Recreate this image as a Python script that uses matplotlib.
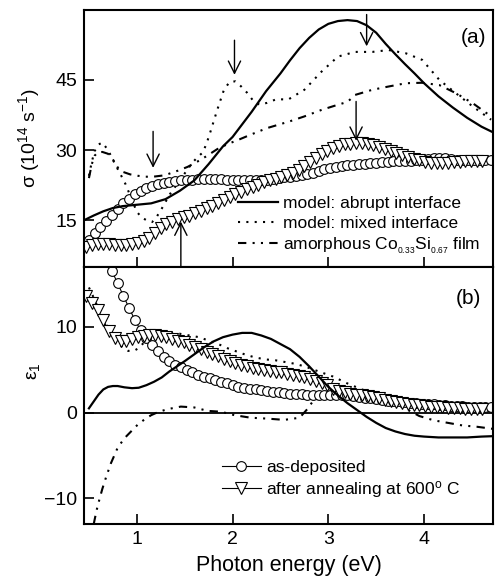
# sigma and eps1 spectra of Co-Si films, two stacked panels
import matplotlib
matplotlib.use("Agg")
import matplotlib.pyplot as plt

plt.rcParams['font.family'] = ['Liberation Sans', 'DejaVu Sans']
plt.rcParams['mathtext.default'] = 'regular'

# ------------------------------
# MEASURED DATA
# ------------------------------
E_dep = [0.50, 0.56, 0.62, 0.68, 0.74, 0.80, 0.86, 0.92, 0.98, 1.04,
         1.10, 1.16, 1.22, 1.28, 1.34, 1.40, 1.46, 1.52, 1.58, 1.64,
         1.70, 1.76, 1.82, 1.88, 1.94, 2.00, 2.06, 2.12, 2.18, 2.24,
         2.30, 2.36, 2.42, 2.48, 2.54, 2.60, 2.66, 2.72, 2.78, 2.84,
         2.90, 2.96, 3.02, 3.08, 3.14, 3.20, 3.26, 3.32, 3.38, 3.44,
         3.50, 3.56, 3.62, 3.68, 3.74, 3.80, 3.86, 3.92, 3.98, 4.04,
         4.10, 4.16, 4.22, 4.28, 4.34, 4.40, 4.46, 4.52, 4.58, 4.64,
         4.70]
sig_dep = [10.7, 12.2, 13.6, 14.9, 16.2, 17.4, 18.6, 19.6, 20.5, 21.2,
           21.8, 22.3, 22.7, 23.0, 23.2, 23.4, 23.5, 23.6, 23.7, 23.8,
           23.8, 23.8, 23.8, 23.8, 23.7, 23.7, 23.6, 23.5, 23.5, 23.5,
           23.6, 23.7, 23.9, 24.1, 24.3, 24.3, 24.4, 24.6, 24.9, 25.2,
           25.6, 25.9, 26.2, 26.4, 26.6, 26.7, 26.9, 27.0, 27.1, 27.2,
           27.3, 27.4, 27.5, 27.6, 27.6, 27.6, 27.7, 27.8, 27.9, 28.0,
           28.2, 28.3, 28.2, 28.0, 27.9, 27.8, 27.8, 27.8, 27.8, 27.8,
           27.8]
eps_dep = [25.0, 22.5, 20.3, 18.3, 16.5, 15.1, 13.6, 12.2, 10.8, 9.6,
           8.7, 7.9, 7.2, 6.5, 6.0, 5.6, 5.3, 5.0, 4.7, 4.4,
           4.2, 4.0, 3.8, 3.6, 3.4, 3.2, 3.0, 2.9, 2.8, 2.7,
           2.6, 2.5, 2.45, 2.4, 2.3, 2.2, 2.2, 2.15, 2.1, 2.1,
           2.1, 2.1, 2.1, 2.1, 2.1, 2.0, 1.9, 1.85, 1.75, 1.65,
           1.6, 1.5, 1.4, 1.35, 1.3, 1.2, 1.15, 1.1, 1.0, 1.0,
           0.95, 0.9, 0.85, 0.8, 0.8, 0.75, 0.7, 0.7, 0.65, 0.6,
           0.6]

E_ann = [0.47, 0.53, 0.59, 0.65, 0.71, 0.77, 0.83, 0.89, 0.95, 1.01,
         1.07, 1.13, 1.19, 1.25, 1.31, 1.37, 1.43, 1.49, 1.55, 1.61,
         1.67, 1.73, 1.79, 1.85, 1.91, 1.97, 2.03, 2.09, 2.15, 2.21,
         2.27, 2.33, 2.39, 2.45, 2.51, 2.57, 2.63, 2.69, 2.75, 2.81,
         2.87, 2.93, 2.99, 3.05, 3.11, 3.17, 3.23, 3.29, 3.35, 3.41,
         3.47, 3.53, 3.59, 3.65, 3.71, 3.77, 3.83, 3.89, 3.95, 4.01,
         4.07, 4.13, 4.19, 4.25, 4.31, 4.37, 4.43, 4.49, 4.55, 4.61]
sig_ann = [9.2, 9.6, 9.9, 10.0, 9.8, 9.6, 9.6, 9.7, 9.8, 10.1,
           10.6, 11.2, 12.2, 13.3, 14.1, 14.7, 15.2, 15.6, 16.0, 16.5,
           17.0, 17.5, 18.1, 18.7, 19.3, 19.9, 20.5, 21.1, 21.6, 22.1,
           22.6, 23.1, 23.5, 23.9, 24.2, 24.6, 25.1, 25.7, 26.5, 27.4,
           28.3, 29.1, 29.8, 30.4, 30.9, 31.2, 31.4, 31.5, 31.5, 31.3,
           31.0, 30.7, 30.3, 29.9, 29.4, 28.9, 28.5, 28.1, 27.8, 27.5,
           27.3, 27.2, 27.2, 27.3, 27.4, 27.5, 27.6, 27.6, 27.6, 27.6]
eps_ann = [13.6, 12.8, 12.0, 10.8, 9.5, 8.7, 8.4, 8.4, 8.6, 8.8,
           8.9, 9.0, 9.0, 8.9, 8.8, 8.6, 8.4, 8.2, 7.9, 7.7,
           7.4, 7.1, 6.8, 6.6, 6.3, 6.0, 5.8, 5.6, 5.4, 5.25,
           5.1, 4.95, 4.85, 4.75, 4.7, 4.55, 4.4, 4.25, 4.1, 3.9,
           3.7, 3.5, 3.2, 2.8, 2.5, 2.35, 2.2, 2.1, 2.0, 1.9,
           1.8, 1.65, 1.5, 1.4, 1.25, 1.1, 1.0, 0.9, 0.85, 0.8,
           0.7, 0.65, 0.6, 0.55, 0.5, 0.5, 0.45, 0.4, 0.4, 0.4]

# ------------------------------
# MODEL CURVES
# ------------------------------
E_abr_s = [0.45, 0.55, 0.65, 0.75, 0.85, 1.0, 1.15, 1.3, 1.45, 1.6,
           1.75, 1.9, 2.0, 2.1, 2.2, 2.35, 2.5, 2.6, 2.7, 2.8,
           2.9, 3.0, 3.1, 3.2, 3.3, 3.4, 3.5, 3.6, 3.7, 3.8,
           3.9, 4.0, 4.15, 4.3, 4.45, 4.6, 4.72]
sig_abr = [15.0, 16.0, 16.9, 17.6, 18.0, 18.3, 18.6, 19.5, 21.3, 23.5,
           27.0, 30.8, 32.8, 35.5, 38.2, 42.6, 46.4, 49.2, 51.8, 54.0,
           55.8, 57.0, 57.6, 57.8, 57.6, 56.7, 55.1, 52.7, 50.5, 48.4,
           46.4, 44.3, 41.5, 39.1, 36.9, 35.0, 33.8]

E_mix_s = [0.50, 0.53, 0.56, 0.60, 0.64, 0.70, 0.77, 0.82, 0.88, 0.94,
           1.00, 1.05, 1.10, 1.16, 1.21, 1.27, 1.34, 1.42, 1.50, 1.58,
           1.64, 1.69, 1.73, 1.77, 1.84, 1.91, 1.97, 2.03, 2.09, 2.15,
           2.21, 2.28, 2.36, 2.46, 2.58, 2.75, 2.93, 3.10, 3.28, 3.46,
           3.63, 3.81, 3.98, 4.16, 4.33, 4.51, 4.70]
sig_mix = [24.5, 27.5, 29.8, 31.2, 31.6, 30.0, 27.1, 25.2, 22.8, 19.8,
           16.8, 15.6, 15.0, 14.6, 15.8, 17.8, 20.4, 22.7, 25.0, 27.3,
           28.6, 29.5, 31.5, 34.0, 38.6, 42.9, 44.6, 44.7, 43.6, 42.3,
           40.7, 39.7, 40.1, 40.9, 40.8, 42.9, 46.8, 50.0, 51.0, 51.0,
           51.4, 50.7, 49.3, 45.0, 42.2, 39.3, 36.5]

E_amo_s = [0.50, 0.53, 0.56, 0.59, 0.64, 0.70, 0.75, 0.80, 0.86, 0.93,
           1.01, 1.09, 1.17, 1.29, 1.43, 1.53, 1.63, 1.72, 1.84, 1.95,
           2.05, 2.19, 2.36, 2.59, 2.75, 2.93, 3.10, 3.20, 3.28, 3.46,
           3.63, 3.81, 3.98, 4.16, 4.33, 4.51, 4.70]
sig_amo = [24.0, 27.0, 28.8, 29.5, 29.6, 29.2, 28.0, 26.3, 25.3, 24.8,
           24.5, 24.3, 24.3, 24.6, 25.6, 26.4, 27.5, 28.6, 30.2, 31.3,
           32.1, 33.3, 34.7, 36.1, 37.2, 38.6, 39.7, 40.3, 41.8, 42.9,
           43.6, 44.3, 44.4, 43.9, 42.2, 40.0, 37.2]

E_abr_e = [0.50, 0.55, 0.60, 0.65, 0.70, 0.75, 0.80, 0.87, 0.95, 1.02,
           1.10, 1.18, 1.26, 1.34, 1.42, 1.50, 1.60, 1.70, 1.80, 1.90,
           2.00, 2.10, 2.20, 2.30, 2.40, 2.50, 2.60, 2.70, 2.80, 2.90,
           3.00, 3.10, 3.20, 3.30, 3.40, 3.50, 3.60, 3.70, 3.80, 3.90,
           4.00, 4.15, 4.30, 4.45, 4.60, 4.72]
eps_abr = [0.5, 1.3, 2.1, 2.7, 3.0, 3.1, 3.1, 2.95, 2.85, 2.9,
           3.2, 3.6, 4.1, 4.8, 5.4, 6.0, 6.8, 7.6, 8.3, 8.8,
           9.1, 9.3, 9.3, 9.0, 8.6, 8.0, 7.4, 6.5, 5.4, 4.2,
           3.0, 2.0, 1.1, 0.3, -0.5, -1.2, -1.8, -2.2, -2.5, -2.7,
           -2.8, -2.9, -2.9, -2.9, -2.8, -2.75]

E_mix_e = [0.50, 0.55, 0.60, 0.66, 0.72, 0.78, 0.85, 0.91, 0.97, 1.03,
           1.09, 1.15, 1.25, 1.35, 1.45, 1.55, 1.65, 1.75, 1.85, 1.95,
           2.05, 2.15, 2.25, 2.35, 2.45, 2.55, 2.65, 2.75, 2.90, 3.05,
           3.20, 3.35, 3.50, 3.65, 3.80, 4.00, 4.20, 4.40, 4.55, 4.72]
eps_mix = [14.6, 13.4, 12.1, 10.7, 9.6, 8.5, 7.6, 7.2, 7.2, 7.6,
           8.4, 9.0, 9.3, 9.3, 9.2, 9.0, 8.8, 8.4, 8.0, 7.5,
           7.1, 6.7, 6.4, 6.2, 6.1, 5.9, 5.7, 5.4, 4.8, 4.2,
           3.4, 2.7, 2.2, 1.9, 1.6, 1.3, 1.1, 0.9, 0.8, 0.7]

E_amo_e = [0.55, 0.58, 0.61, 0.64, 0.68, 0.73, 0.80, 0.87, 0.94, 1.01,
           1.08, 1.15, 1.22, 1.32, 1.46, 1.60, 1.74, 1.88, 2.02, 2.19,
           2.36, 2.54, 2.70, 2.78, 2.85, 2.95, 3.10, 3.30, 3.50, 3.70,
           3.85, 3.95, 4.10, 4.25, 4.40, 4.55, 4.72]
eps_amo = [-13.0, -11.4, -10.1, -8.9, -7.5, -5.9, -4.1, -3.0, -2.2, -1.4,
           -0.8, -0.3, 0.05, 0.4, 0.7, 0.6, 0.2, 0.1, -0.3, -0.6,
           -0.7, -0.85, -0.6, 0.4, 1.5, 1.7, 1.8, 1.7, 1.5, 1.0,
           0.2, -0.4, -0.9, -1.2, -1.5, -1.65, -1.9]

# arrows in panel (a): energy, tail, tip
arrow_E = [1.17, 2.02, 3.40, 3.29, 1.46]
arrow_from = [34.0, 53.5, 59.0, 40.4, 5.0]
arrow_to = [26.2, 46.1, 52.2, 32.0, 14.7]

# ------------------------------
# FIGURE
# ------------------------------
fig, (ax1, ax2) = plt.subplots(2, 1, sharex=True, figsize=(4.95, 5.79), dpi=100)
fig.subplots_adjust(left=0.170, right=0.996, top=0.983, bottom=0.095, hspace=0)

dotted = (0, (1, 3))
dashdot = (0, (4, 3, 1, 3, 1, 3))
mk = dict(mfc='white', mec='black', mew=0.8, color='black', lw=0.8)

# panel (a)
l_mix, = ax1.plot(E_mix_s, sig_mix, color='black', lw=1.5, ls=dotted,
                  label='model: mixed interface')
l_amo, = ax1.plot(E_amo_s, sig_amo, color='black', lw=1.5, ls=dashdot,
                  label='amorphous Co$_{_{0.33}}$Si$_{_{0.67}}$ film')
ax1.plot(E_dep, sig_dep, marker='o', ms=7, **mk)
ax1.plot(E_ann, sig_ann, marker='v', ms=8, **mk)
l_abr, = ax1.plot(E_abr_s, sig_abr, color='black', lw=1.6,
                  label='model: abrupt interface')

for x, y0, y1 in zip(arrow_E, arrow_from, arrow_to):
    ax1.annotate('', xy=(x, y1), xytext=(x, y0),
                 arrowprops=dict(arrowstyle='->', lw=1.0, color='black',
                                 mutation_scale=22, shrinkA=0, shrinkB=0))

ax1.set_ylim(5, 60)
ax1.set_yticks([15, 30, 45])
ax1.set_ylabel('σ (10$^{14}$ s$^{-1}$)', fontsize=14)
ax1.yaxis.set_label_coords(-0.103, 0.5)
ax1.text(0.953, 0.891, '(a)', transform=ax1.transAxes, fontsize=15,
         ha='center', va='center')
ax1.legend(handles=[l_abr, l_mix, l_amo], loc='lower left',
           bbox_to_anchor=(0.3765, 0.043), frameon=False, fontsize=12.5,
           handlelength=2.3, handletextpad=0.28, labelspacing=0.26,
           borderpad=0, borderaxespad=0)

# panel (b)
ax2.axhline(0, color='black', lw=1.3)
ax2.plot(E_mix_e, eps_mix, color='black', lw=1.5, ls=dotted)
ax2.plot(E_amo_e, eps_amo, color='black', lw=1.5, ls=dashdot)
l_dep, = ax2.plot(E_dep, eps_dep, marker='o', ms=7, label='as-deposited', **mk)
l_ann, = ax2.plot(E_ann, eps_ann, marker='v', ms=8,
                  label='after annealing at 600$^{o}$ C', **mk)
ax2.plot(E_abr_e, eps_abr, color='black', lw=1.6)

ax2.set_ylim(-13, 17)
ax2.set_yticks([-10, 0, 10])
ax2.set_ylabel('ε$_1$', fontsize=14)
ax2.yaxis.set_label_coords(-0.103, 0.595)
ax2.text(0.941, 0.879, '(b)', transform=ax2.transAxes, fontsize=15,
         ha='center', va='center')
ax2.legend(handles=[l_dep, l_ann], loc='lower left', numpoints=1,
           bbox_to_anchor=(0.337, 0.095), frameon=False, fontsize=12.5,
           handlelength=2.25, handletextpad=0.3, labelspacing=0.2,
           borderpad=0, borderaxespad=0)

ax2.set_xlim(0.45, 4.72)
ax2.set_xticks([1, 2, 3, 4])
ax2.set_xlabel('Photon energy (eV)', fontsize=15.5, labelpad=5)

for ax in (ax1, ax2):
    ax.tick_params(direction='in', length=7, width=1.2, labelsize=14,
                   top=False, right=False, pad=5)
    for s in ax.spines.values():
        s.set_linewidth(1.5)
ax1.tick_params(labelbottom=False)

fig.savefig('out.png', dpi=100)
